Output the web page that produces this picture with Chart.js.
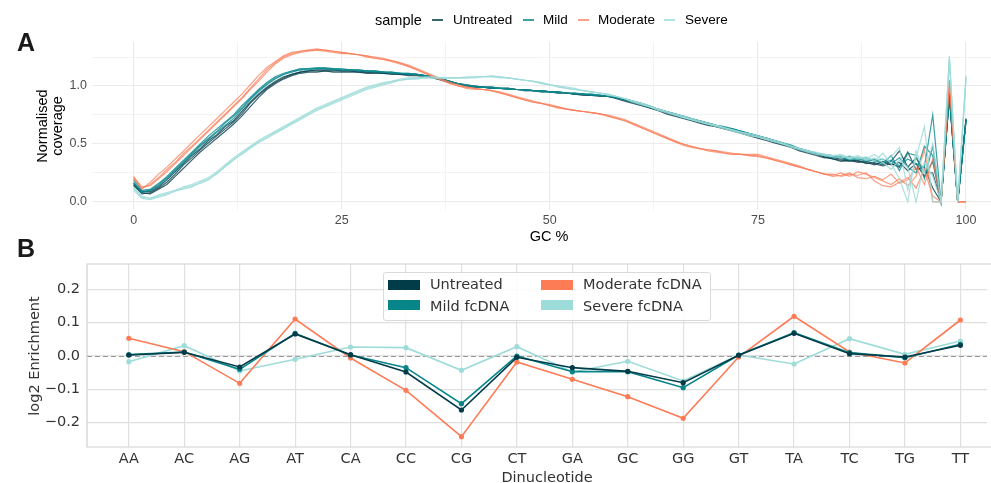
<!DOCTYPE html>
<html>
<head>
<meta charset="utf-8">
<script src="https://cdn.jsdelivr.net/npm/chart.js@4.4.1/dist/chart.umd.min.js"></script>
<style>
body { margin: 0; background: #fff; }
#wrap { position: relative; width: 991px; height: 483px; overflow: hidden; background: #fff; }
canvas { position: absolute; left: 0; }
.gg { position: absolute; white-space: nowrap; font-family: "Liberation Sans", Arial, sans-serif; color: #000; }
.mpl { position: absolute; white-space: nowrap; font-family: "DejaVu Sans", sans-serif; color: #333; }
.panel { font-weight: bold; font-size: 25px; line-height: 25px; color: #1a1a1a; }
.key { position: absolute; height: 1.5px; width: 11px; }
.patch { position: absolute; width: 32px; height: 10px; }
</style>
</head>
<body>
<div id="wrap">
  <canvas id="coverage" width="991" height="240" style="top:0"></canvas>
  <canvas id="enrich" width="991" height="243" style="top:240px"></canvas>

  <div class="gg panel" style="left:17px;top:30px">A</div>
  <div class="gg panel" style="left:17px;top:236px">B</div>

  <!-- panel A legend -->
  <div class="gg" style="left:375px;top:11px;font-size:14.5px;line-height:18px">sample</div>
  <div class="key" style="left:432px;top:19px;background:rgba(7,63,76,0.8)"></div>
  <div class="gg" style="left:453px;top:11px;font-size:13.5px;line-height:18px">Untreated</div>
  <div class="key" style="left:523px;top:19px;background:rgba(10,138,143,0.8)"></div>
  <div class="gg" style="left:543px;top:11px;font-size:13.5px;line-height:18px">Mild</div>
  <div class="key" style="left:578px;top:19px;background:rgba(250,125,90,0.7)"></div>
  <div class="gg" style="left:598px;top:11px;font-size:13.5px;line-height:18px">Moderate</div>
  <div class="key" style="left:664px;top:19px;background:rgba(158,220,217,0.8)"></div>
  <div class="gg" style="left:685px;top:11px;font-size:13.5px;line-height:18px">Severe</div>

  <div class="gg" style="left:-50px;top:111px;width:200px;text-align:center;font-size:14.5px;line-height:15px;transform:rotate(-90deg)">Normalised<br>coverage</div>
  <div class="gg" style="left:499px;top:227px;width:100px;text-align:center;font-size:14.5px;line-height:18px">GC %</div>

  <!-- panel B legend -->
  <div style="position:absolute;left:383px;top:272px;width:326px;height:47px;border:1px solid #dadada;border-radius:3px;background:rgba(255,255,255,0.85)"></div>
  <div class="patch" style="left:388px;top:280px;background:#033c49"></div>
  <div class="mpl" style="left:430px;top:275px;font-size:14.5px;line-height:18px">Untreated</div>
  <div class="patch" style="left:388px;top:300px;background:#088589"></div>
  <div class="mpl" style="left:430px;top:297px;font-size:14.5px;line-height:18px">Mild fcDNA</div>
  <div class="patch" style="left:541px;top:280px;background:#fd7b55"></div>
  <div class="mpl" style="left:583px;top:275px;font-size:14.5px;line-height:18px">Moderate fcDNA</div>
  <div class="patch" style="left:541px;top:300px;background:#9edcd9"></div>
  <div class="mpl" style="left:583px;top:297px;font-size:14.5px;line-height:18px">Severe fcDNA</div>

  <div class="mpl" style="left:-66px;top:347px;width:200px;text-align:center;font-size:14.5px;line-height:18px;transform:rotate(-90deg)">log2 Enrichment</div>
  <div class="mpl" style="left:447px;top:468px;width:200px;text-align:center;font-size:14.5px;line-height:18px">Dinucleotide</div>
</div>

<script>
// ---- Panel A: normalised coverage by GC % (three replicates per sample) ----
const gcPercent = Array.from({ length: 101 }, (_, i) => i);

const untreated1 = [.15,.07,.08,.12,.17,.24,.32,.38,.45,.51, .57,.63,.69,.76,.85,.92,.98,1.03,1.07,1.10,
  1.12,1.13,1.13,1.13,1.13,1.13,1.13,1.12,1.12,1.12, 1.11,1.11,1.10,1.10,1.10,1.09,1.08,1.06,1.04,1.02,
  1.01,1.00,.99,.99,.98,.98,.97,.97,.96,.96, .95,.95,.94,.93,.93,.92,.92,.91,.90,.88,
  .86,.84,.82,.79,.77,.75,.73,.71,.69,.67, .65,.64,.62,.60,.58,.56,.54,.52,.50,.47,
  .45,.43,.41,.39,.37,.36,.35,.36,.33,.34, .32,.35,.44,.30,.38,.26,.25,0,.93,0,.71];
const untreated2 = [.14,.08,.07,.11,.15,.22,.29,.36,.43,.49, .55,.61,.67,.74,.82,.90,.97,1.02,1.06,1.09,
  1.11,1.12,1.12,1.13,1.12,1.12,1.12,1.12,1.11,1.11, 1.11,1.10,1.10,1.09,1.09,1.08,1.07,1.05,1.03,1.02,
  1.00,.99,.99,.98,.98,.97,.97,.96,.96,.95, .95,.94,.94,.93,.92,.92,.91,.91,.89,.87,
  .85,.83,.81,.79,.76,.74,.72,.70,.68,.66, .65,.63,.61,.59,.57,.55,.53,.51,.49,.47,
  .44,.42,.40,.38,.38,.37,.36,.34,.35,.33, .31,.33,.30,.43,.28,.30,.12,0,.90,0,.71];
const untreated3 = [.16,.09,.09,.13,.19,.26,.33,.40,.46,.53, .58,.65,.70,.78,.86,.93,.99,1.04,1.08,1.10,
  1.12,1.13,1.14,1.14,1.14,1.13,1.13,1.13,1.12,1.12, 1.12,1.11,1.11,1.10,1.10,1.09,1.08,1.06,1.04,1.02,
  1.00,.99,.99,.98,.98,.98,.97,.97,.96,.96, .95,.94,.94,.93,.93,.92,.92,.91,.90,.88,
  .86,.84,.81,.79,.77,.75,.73,.71,.69,.67, .65,.63,.62,.60,.58,.56,.54,.52,.50,.48,
  .45,.43,.41,.39,.37,.35,.36,.35,.34,.32, .35,.32,.34,.27,.33,.22,.35,0,.91,0,.72];

const mild1 = [.17,.09,.10,.15,.21,.28,.35,.42,.49,.55, .61,.68,.74,.81,.89,.96,1.02,1.07,1.10,1.13,
  1.14,1.15,1.15,1.15,1.15,1.14,1.14,1.14,1.13,1.13, 1.12,1.12,1.11,1.11,1.10,1.09,1.08,1.06,1.04,1.02,
  1.01,1.00,.99,.99,.98,.98,.97,.97,.96,.96, .95,.95,.94,.94,.93,.93,.92,.92,.90,.89,
  .87,.85,.83,.80,.78,.76,.74,.72,.70,.68, .66,.65,.63,.61,.59,.57,.55,.53,.51,.48,
  .46,.44,.42,.40,.39,.38,.37,.38,.36,.37, .34,.36,.31,.37,.33,.30,.75,0,.92,0,.70];
const mild2 = [.19,.10,.11,.16,.22,.29,.36,.43,.50,.57, .63,.69,.75,.83,.90,.97,1.03,1.08,1.11,1.13,
  1.15,1.15,1.16,1.16,1.15,1.15,1.14,1.14,1.13,1.13, 1.12,1.12,1.11,1.11,1.10,1.09,1.07,1.05,1.03,1.02,
  1.00,.99,.99,.98,.98,.97,.97,.96,.96,.95, .95,.94,.94,.93,.93,.92,.92,.91,.90,.88,
  .86,.84,.82,.80,.78,.76,.73,.71,.70,.68, .66,.64,.62,.61,.59,.57,.55,.53,.50,.48,
  .46,.44,.42,.41,.40,.38,.39,.37,.38,.35, .37,.33,.38,.30,.25,.48,.40,0,.95,0,.71];
const mild3 = [.16,.08,.10,.14,.20,.27,.34,.41,.48,.54, .60,.66,.72,.80,.88,.95,1.01,1.06,1.10,1.12,
  1.14,1.14,1.15,1.15,1.14,1.14,1.14,1.13,1.13,1.12, 1.12,1.11,1.11,1.10,1.10,1.09,1.08,1.06,1.04,1.02,
  1.00,1.00,.99,.99,.98,.98,.97,.97,.96,.96, .95,.95,.94,.94,.93,.93,.92,.91,.90,.89,
  .87,.85,.82,.80,.78,.76,.74,.72,.70,.68, .66,.64,.63,.61,.59,.57,.55,.53,.51,.49,
  .46,.44,.42,.40,.38,.39,.36,.37,.35,.36, .33,.40,.27,.42,.40,.20,.48,0,.93,0,.70];

const moderate1 = [.22,.12,.15,.21,.28,.34,.42,.48,.55,.62, .69,.76,.83,.90,.98,1.06,1.14,1.20,1.25,1.28,
  1.30,1.31,1.31,1.31,1.30,1.29,1.28,1.27,1.26,1.25, 1.24,1.22,1.20,1.18,1.15,1.12,1.09,1.06,1.03,1.01,
  .99,.98,.97,.96,.95,.93,.91,.89,.87,.85, .84,.82,.80,.79,.78,.77,.76,.75,.73,.71,
  .68,.65,.62,.59,.56,.53,.50,.48,.46,.45, .44,.43,.42,.41,.41,.41,.39,.37,.35,.33,
  .31,.28,.26,.24,.23,.25,.22,.26,.24,.21, .18,.15,.20,.14,.22,.45,0,0,1.05,0,0];
const moderate2 = [.20,.11,.17,.24,.30,.37,.44,.51,.58,.65, .72,.79,.86,.93,1.01,1.09,1.16,1.21,1.26,1.29,
  1.30,1.31,1.32,1.31,1.30,1.29,1.28,1.27,1.26,1.24, 1.23,1.22,1.20,1.17,1.14,1.11,1.08,1.05,1.03,1.00,
  .99,.98,.97,.96,.94,.92,.90,.88,.86,.85, .83,.81,.80,.79,.78,.77,.76,.74,.72,.70,
  .67,.64,.61,.58,.55,.52,.50,.48,.46,.45, .44,.42,.41,.41,.40,.40,.38,.36,.34,.32,
  .30,.28,.26,.24,.22,.23,.25,.21,.20,.22, .19,.24,.16,.19,.30,.15,.37,0,1.04,0,0];
const moderate3 = [.21,.13,.14,.20,.26,.33,.40,.47,.54,.61, .68,.75,.82,.89,.97,1.04,1.12,1.19,1.24,1.27,
  1.29,1.30,1.31,1.30,1.29,1.28,1.28,1.27,1.25,1.24, 1.23,1.21,1.19,1.17,1.14,1.11,1.08,1.05,1.02,1.00,
  .98,.97,.97,.96,.94,.92,.90,.88,.86,.85, .83,.82,.80,.79,.78,.77,.76,.74,.72,.70,
  .67,.64,.61,.58,.55,.52,.49,.47,.46,.44, .43,.42,.41,.41,.40,.39,.38,.36,.34,.32,
  .30,.28,.26,.24,.24,.22,.24,.23,.25,.18, .14,.13,.17,.21,.12,.28,.05,0,1.05,0,0];

const severe1 = [.12,.04,.03,.05,.07,.09,.12,.14,.16,.19, .25,.30,.36,.42,.47,.52,.56,.60,.64,.68,
  .72,.76,.80,.83,.86,.89,.92,.95,.98,1.00, 1.02,1.04,1.05,1.06,1.07,1.07,1.07,1.07,1.07,1.07,
  1.07,1.08,1.08,1.08,1.08,1.07,1.06,1.05,1.04,1.03, 1.01,1.00,.98,.97,.96,.95,.94,.93,.91,.89,
  .87,.85,.82,.80,.78,.75,.73,.71,.69,.67, .66,.64,.62,.60,.58,.56,.54,.52,.50,.48,
  .46,.44,.42,.41,.40,.41,.38,.40,.37,.41, .36,.39,.47,.10,.38,.65,0,0,1.26,0,1.09];
const severe2 = [.10,.03,.02,.04,.06,.10,.11,.13,.17,.20, .24,.31,.37,.41,.46,.51,.55,.59,.63,.67,
  .71,.75,.79,.82,.85,.88,.91,.94,.97,.99, 1.01,1.03,1.05,1.06,1.06,1.07,1.07,1.07,1.07,1.07,
  1.07,1.07,1.08,1.08,1.07,1.07,1.06,1.05,1.04,1.02, 1.01,.99,.98,.97,.96,.95,.94,.92,.91,.89,
  .86,.84,.82,.79,.77,.75,.73,.71,.69,.67, .65,.63,.61,.59,.57,.56,.54,.52,.50,.47,
  .45,.43,.41,.40,.39,.38,.40,.37,.39,.35, .42,.33,.20,0,.44,.25,.50,0,1.22,0,1.06];
const severe3 = [.13,.05,.03,.06,.08,.10,.13,.15,.18,.21, .26,.32,.38,.43,.48,.53,.57,.61,.65,.69,
  .73,.77,.81,.84,.87,.90,.93,.96,.99,1.01, 1.03,1.04,1.06,1.07,1.07,1.08,1.08,1.07,1.07,1.07,
  1.08,1.08,1.08,1.09,1.08,1.07,1.06,1.05,1.04,1.03, 1.01,1.00,.99,.98,.96,.95,.94,.93,.91,.89,
  .87,.85,.83,.80,.78,.76,.74,.72,.70,.68, .66,.64,.62,.60,.59,.57,.55,.53,.51,.48,
  .46,.44,.43,.41,.40,.40,.37,.39,.36,.38, .34,.28,.36,.30,0,.35,.22,0,1.24,0,1.08];

const coverageTicksX = [0, 25, 50, 75, 100];
const coverageTicksY = [0, 0.5, 1.0];

// ---- Panel B: log2 enrichment per dinucleotide ----
const dinucleotides = ['AA','AC','AG','AT','CA','CC','CG','CT','GA','GC','GG','GT','TA','TC','TG','TT'];
const enrichUntreated = [0.003, 0.011, -0.033, 0.066, 0.004, -0.048, -0.162, -0.004, -0.035, -0.046, -0.080, 0.002, 0.068, 0.007, -0.003, 0.032];
const enrichMild      = [0.004, 0.012, -0.040, 0.068, 0.003, -0.035, -0.143, 0.000, -0.047, -0.047, -0.095, 0.003, 0.070, 0.010, -0.005, 0.035];
const enrichModerate  = [0.053, 0.013, -0.082, 0.111, -0.006, -0.103, -0.242, -0.018, -0.070, -0.122, -0.187, -0.003, 0.119, 0.012, -0.021, 0.108];
const enrichSevere    = [-0.017, 0.031, -0.045, -0.010, 0.027, 0.025, -0.043, 0.028, -0.048, -0.016, -0.075, 0.003, -0.024, 0.052, 0.005, 0.045];
const enrichTicksY = [-0.2, -0.1, 0, 0.1, 0.2];

const colUntreated = '#033c49';
const colMild = '#088589';
const colModerate = '#fd7b55';
const colSevere = '#9edcd9';

// Panel A chart
const lineSets = [
  { reps: [untreated1, untreated2, untreated3], color: 'rgba(7,63,76,0.8)', order: 4 },
  { reps: [mild1, mild2, mild3], color: 'rgba(10,138,143,0.8)', order: 3 },
  { reps: [moderate1, moderate2, moderate3], color: 'rgba(250,125,90,0.75)', order: 2 },
  { reps: [severe1, severe2, severe3], color: 'rgba(158,220,217,0.85)', order: 1 }
];
const coverageData = [];
lineSets.forEach(s => {
  s.reps.forEach(r => {
    coverageData.push({
      data: r.map((v, i) => ({ x: gcPercent[i], y: v })),
      borderColor: s.color,
      borderWidth: 1.2,
      pointRadius: 0,
      tension: 0,
      order: s.order
    });
  });
});

const ggFont = { family: '"Liberation Sans", Arial, sans-serif', size: 12.5 };

new Chart(document.getElementById('coverage'), {
  type: 'line',
  data: { datasets: coverageData },
  options: {
    responsive: false,
    animation: false,
    devicePixelRatio: 1,
    layout: { padding: { top: 42, left: 0, right: 0, bottom: 0 } },
    plugins: { legend: { display: false }, tooltip: { enabled: false } },
    scales: {
      x: {
        type: 'linear', min: -5, max: 103,
        afterFit: s => { s.height = 30; },
        border: { display: false },
        grid: {
          color: '#ebebeb',
          lineWidth: c => (c.tick && coverageTicksX.includes(c.tick.value)) ? 1.1 : 0.6,
          drawTicks: false
        },
        ticks: {
          stepSize: 12.5, includeBounds: false, padding: 3,
          color: '#4d4d4d', font: ggFont, maxRotation: 0, autoSkip: false,
          callback: v => coverageTicksX.includes(v) ? String(v) : ''
        }
      },
      y: {
        min: -0.07, max: 1.38,
        afterFit: s => { s.width = 92; },
        border: { display: false },
        grid: {
          color: '#ebebeb',
          lineWidth: c => (c.tick && coverageTicksY.includes(c.tick.value)) ? 1.1 : 0.6,
          drawTicks: false
        },
        ticks: {
          stepSize: 0.25, includeBounds: false, padding: 5,
          color: '#4d4d4d', font: ggFont,
          callback: v => coverageTicksY.includes(v) ? v.toFixed(1) : ''
        }
      }
    }
  }
});

// Panel B chart
const framePlugin = {
  id: 'frame',
  beforeDatasetsDraw(chart) {
    const { ctx, chartArea: a, scales } = chart;
    const y0 = Math.round(scales.y.getPixelForValue(0)) + 0.5;
    ctx.save();
    ctx.strokeStyle = '#9a9a9a';
    ctx.lineWidth = 1;
    ctx.setLineDash([5, 3]);
    ctx.beginPath();
    ctx.moveTo(a.left, y0);
    ctx.lineTo(a.right, y0);
    ctx.stroke();
    ctx.setLineDash([]);
    ctx.strokeStyle = '#cfcfcf';
    ctx.lineWidth = 1.2;
    ctx.beginPath();
    ctx.moveTo(a.right + 5, a.top);
    ctx.lineTo(a.left, a.top);
    ctx.lineTo(a.left, a.bottom);
    ctx.lineTo(a.right + 5, a.bottom);
    ctx.stroke();
    ctx.restore();
  }
};

const mplFont = { family: '"DejaVu Sans", sans-serif', size: 14.5 };
const enrichSet = (vals, color, order) => ({
  data: vals.map((v, i) => ({ x: i, y: v })),
  borderColor: color,
  backgroundColor: color,
  borderWidth: 1.6,
  pointRadius: 2.6,
  pointBorderWidth: 0,
  tension: 0,
  order: order
});

new Chart(document.getElementById('enrich'), {
  type: 'line',
  data: {
    datasets: [
      enrichSet(enrichUntreated, colUntreated, 1),
      enrichSet(enrichMild, colMild, 2),
      enrichSet(enrichModerate, colModerate, 3),
      enrichSet(enrichSevere, colSevere, 4)
    ]
  },
  options: {
    responsive: false,
    animation: false,
    devicePixelRatio: 1,
    layout: { padding: { top: 24, left: 0, right: 0, bottom: 0 } },
    plugins: { legend: { display: false }, tooltip: { enabled: false } },
    scales: {
      x: {
        type: 'linear', min: -0.754, max: 15.48,
        afterFit: s => { s.height = 36; },
        border: { display: false },
        grid: { color: '#e0e0e0', lineWidth: 1.2, drawTicks: false },
        ticks: {
          stepSize: 1, includeBounds: false, padding: 4, autoSkip: false, maxRotation: 0,
          color: '#333', font: mplFont,
          callback: v => dinucleotides[v] || ''
        }
      },
      y: {
        min: -0.273, max: 0.276,
        afterFit: s => { s.width = 87; },
        border: { display: false },
        grid: { color: '#e0e0e0', lineWidth: 1.2, drawTicks: false },
        afterBuildTicks: s => { s.ticks = enrichTicksY.map(v => ({ value: v })); },
        ticks: {
          padding: 7, color: '#333', font: mplFont,
          callback: v => {
            const r = Math.round(v * 10) / 10;
            return r < 0 ? '\u2212' + Math.abs(r).toFixed(1) : r.toFixed(1);
          }
        }
      }
    }
  },
  plugins: [framePlugin]
});
</script>
</body>
</html>
